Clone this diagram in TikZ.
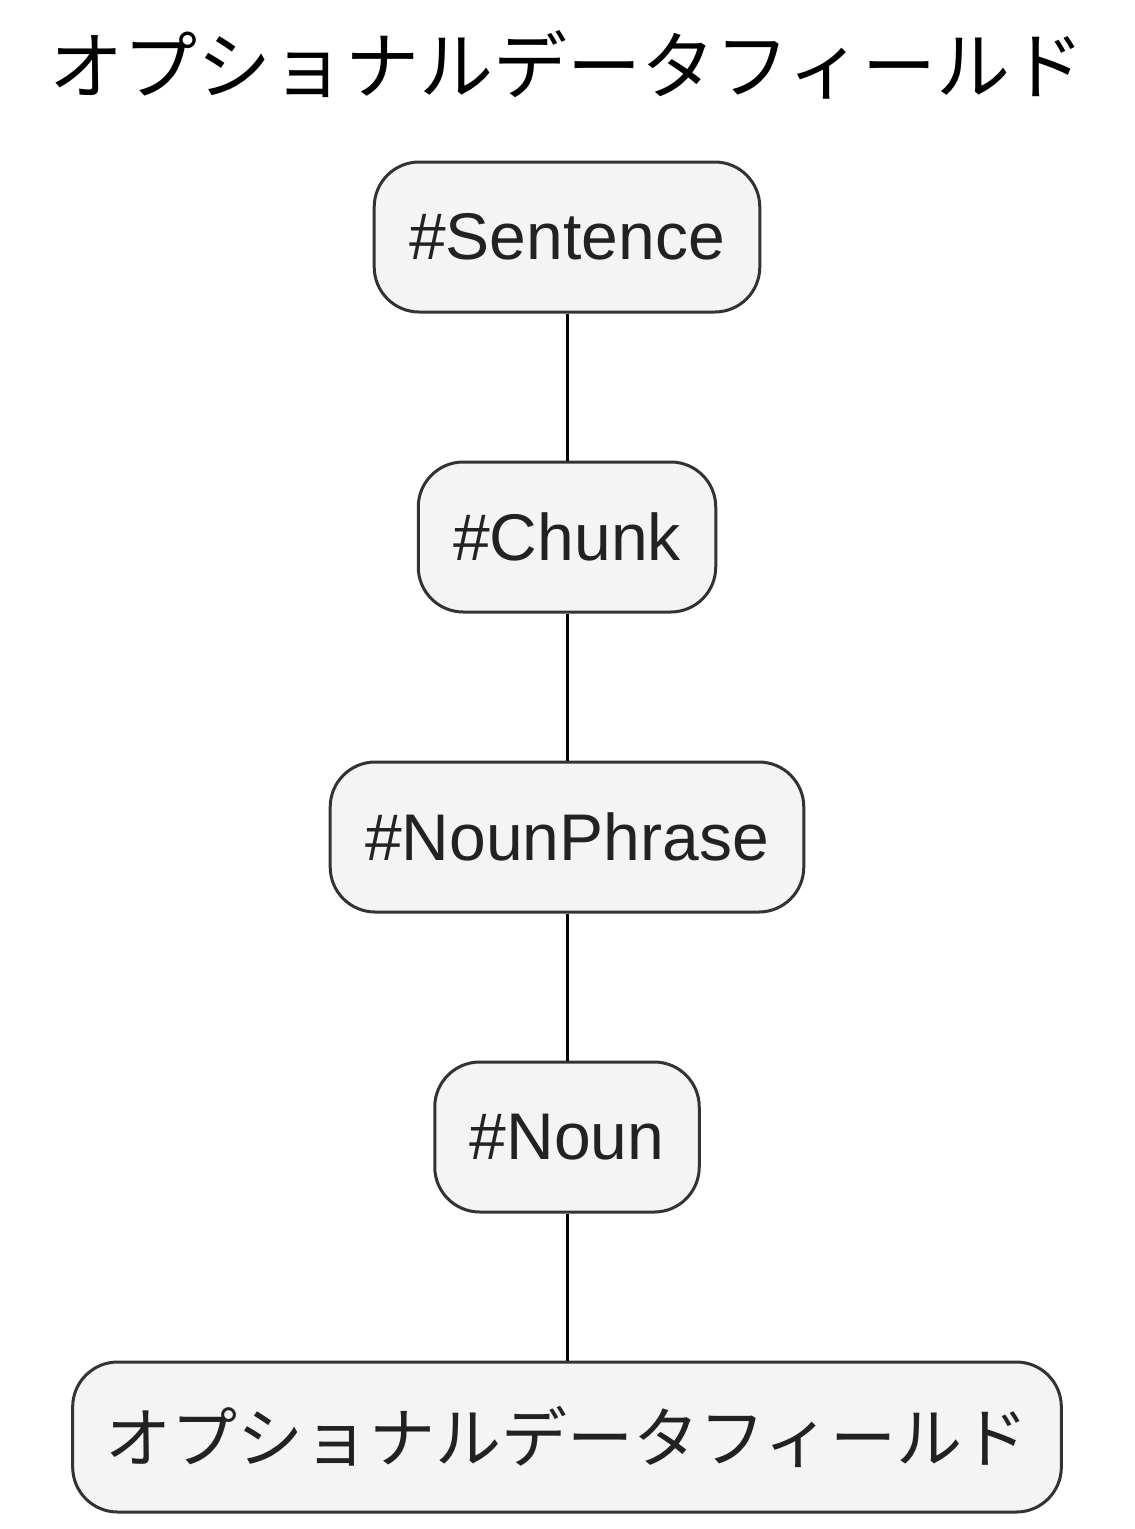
\documentclass[tikz,border=0pt]{standalone}
\usepackage{fontspec}
\setmainfont{Liberation Sans}
\newfontfamily\jpfont{Noto Sans CJK JP}
\usetikzlibrary{positioning}
\definecolor{boxfill}{HTML}{F4F4F4}
\definecolor{boxline}{HTML}{333333}
\definecolor{boxtext}{HTML}{222222}

\begin{document}
\begin{tikzpicture}[x=1pt, y=1pt, node distance=147pt,
  b/.style={draw=boxline, fill=boxfill, text=boxtext, rounded corners=45pt, line width=3pt,
            minimum height=150pt, inner xsep=35pt, font=\fontsize{66}{79}\selectfont},
  a/.style={line width=3pt, color=black}]
\useasboundingbox (0,0) rectangle (1135,-1529);

% title
\node (title) at (567,-65) {\jpfont\fontsize{74}{89}\selectfont オプショナルデータフィールド};

% chain of nodes
\node[b] (sent) at (567,-237) {\#Sentence};
\node[b, below=of sent] (chunk) {\#Chunk};
\node[b, below=of chunk] (np) {\#NounPhrase};
\node[b, below=of np] (noun) {\#Noun};
\node[b, below=of noun, inner xsep=33pt] (field) {\jpfont\fontsize{66}{79}\selectfont オプショナルデータフィールド};

\draw[a] (sent)--(chunk); \draw[a] (chunk)--(np); \draw[a] (np)--(noun); \draw[a] (noun)--(field);
\end{tikzpicture}
\end{document}
